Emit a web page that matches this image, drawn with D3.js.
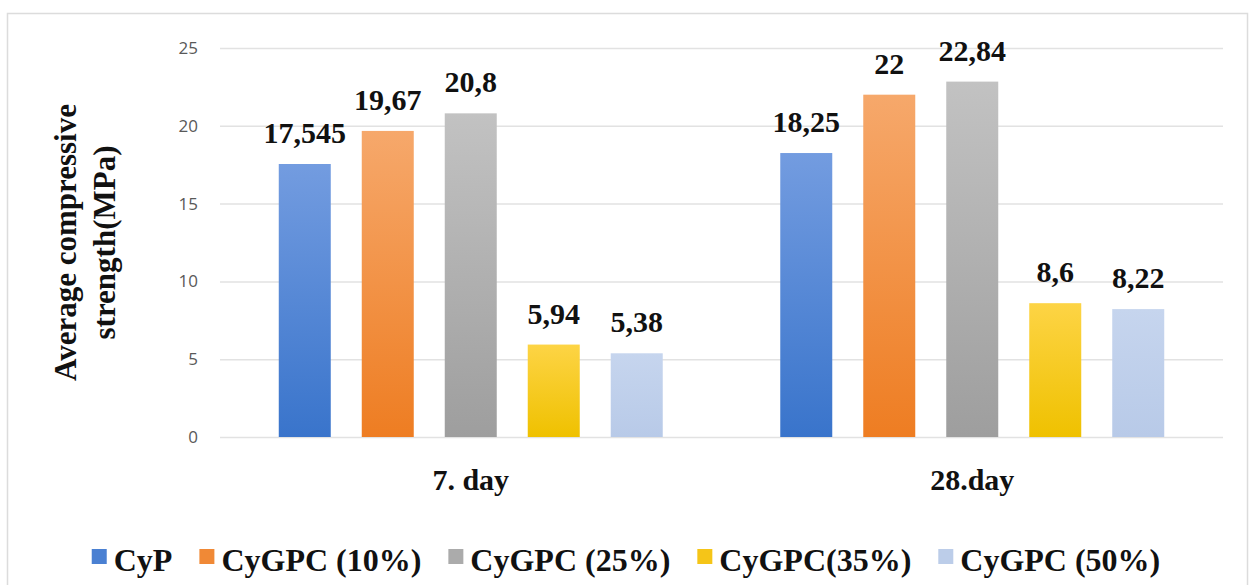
<!DOCTYPE html>
<html>
<head>
<meta charset="utf-8">
<script src="https://cdn.jsdelivr.net/npm/d3@7"></script>
<style>
  body { margin: 0; background: #fff; }
  svg { display: block; }
</style>
</head>
<body>
<div id="chart"></div>
<script>
'use strict';

// Data
const categories = ["7. day", "28.day"];
const seriesNames = ["CyP", "CyGPC (10%)", "CyGPC (25%)", "CyGPC(35%)", "CyGPC (50%)"];
const cyP    = [17.545, 18.25];
const gpc10  = [19.67, 22];
const gpc25  = [20.8, 22.84];
const gpc35  = [5.94, 8.6];
const gpc50  = [5.38, 8.22];
const yTicks = [0, 5, 10, 15, 20, 25];

const seriesValues = [cyP, gpc10, gpc25, gpc35, gpc50];

// colours: gradient top / bottom, legend swatch
const colTop    = ["#739ce0", "#f6a86b", "#c2c2c2", "#fdd445", "#c6d5ee"];
const colBottom = ["#3974cb", "#ee7d22", "#9e9e9e", "#efc100", "#b8cae8"];
const colKey    = ["#4a80d2", "#f08936", "#ababab", "#f5c518", "#bccde9"];

const W = 1252, H = 585;
const plot = {left: 220, right: 1223, top: 48, bottom: 437};
const serif = "'Liberation Serif', 'Times New Roman', serif";

const svg = d3.select("#chart").append("svg")
  .attr("width", W)
  .attr("height", H);

// gradients
const defs = svg.append("defs");
seriesNames.forEach((s, i) => {
  const g = defs.append("linearGradient")
    .attr("id", "grad" + i)
    .attr("x1", 0).attr("y1", 0).attr("x2", 0).attr("y2", 1);
  g.append("stop").attr("offset", "0%").attr("stop-color", colTop[i]);
  g.append("stop").attr("offset", "100%").attr("stop-color", colBottom[i]);
});

// outer frame
svg.append("rect")
  .attr("x", 7.5).attr("y", 13.5)
  .attr("width", 1240).attr("height", 580)
  .attr("fill", "none")
  .attr("stroke", "#dcdcdc")
  .attr("stroke-width", 1.5);

// scales
const x0 = d3.scaleBand().domain(categories).range([plot.left, plot.right]);
const x1 = d3.scaleBand().domain(d3.range(seriesNames.length))
  .range([0, x0.bandwidth()])
  .paddingInner(0.3735)
  .paddingOuter(0.708);
const y = d3.scaleLinear().domain([0, 25]).range([plot.bottom, plot.top]);

// gridlines + y tick labels
const yAxis = d3.axisLeft(y)
  .tickValues(yTicks)
  .tickSize(-(plot.right - plot.left))
  .tickPadding(22);
const gy = svg.append("g")
  .attr("transform", `translate(${plot.left},0)`)
  .call(yAxis);
gy.select(".domain").remove();
gy.selectAll(".tick line")
  .attr("stroke", "#e2e2e2")
  .attr("stroke-width", 1.5);
gy.selectAll(".tick text")
  .attr("fill", "#595959")
  .style("font-family", "'Open Sans', sans-serif")
  .style("font-size", "17px");

// bars
const fmt = v => String(v).replace(".", ",");
const groups = svg.selectAll("g.cat")
  .data(categories)
  .enter().append("g")
  .attr("class", "cat")
  .attr("transform", d => `translate(${x0(d)},0)`);

groups.each(function(cat, ci) {
  const g = d3.select(this);
  const rows = seriesValues.map((vals, si) => ({si: si, v: vals[ci]}));
  g.selectAll("rect")
    .data(rows)
    .enter().append("rect")
    .attr("x", d => x1(d.si))
    .attr("y", d => y(d.v))
    .attr("width", x1.bandwidth())
    .attr("height", d => y(0) - y(d.v))
    .attr("fill", d => `url(#grad${d.si})`);
  g.selectAll("text.val")
    .data(rows)
    .enter().append("text")
    .attr("class", "val")
    .attr("x", d => x1(d.si) + x1.bandwidth() / 2)
    .attr("y", d => y(d.v) - 21)
    .attr("text-anchor", "middle")
    .style("font-family", serif)
    .style("font-weight", "bold")
    .style("font-size", "30px")
    .attr("fill", "#111")
    .text(d => fmt(d.v));
});

// category labels
svg.selectAll("text.cat")
  .data(categories)
  .enter().append("text")
  .attr("class", "cat")
  .attr("x", d => x0(d) + x0.bandwidth() / 2)
  .attr("y", 490)
  .attr("text-anchor", "middle")
  .style("font-family", serif)
  .style("font-weight", "bold")
  .style("font-size", "30px")
  .attr("fill", "#111")
  .text(d => d);

// y axis title
const yTitle = ["Average compressive", "strength(MPa)"];
svg.selectAll("text.ytitle")
  .data(yTitle)
  .enter().append("text")
  .attr("class", "ytitle")
  .attr("transform", (d, i) => `translate(${76 + i * 39},${(plot.top + plot.bottom) / 2}) rotate(-90)`)
  .attr("text-anchor", "middle")
  .style("font-family", serif)
  .style("font-weight", "bold")
  .style("font-size", "31px")
  .attr("fill", "#111")
  .text(d => d);

// legend
const legend = svg.append("g");
const sw = 15, swGap = 7, itemGap = 27;
let xPos = 0;
seriesNames.forEach((s, i) => {
  const item = legend.append("g");
  item.append("rect")
    .attr("x", xPos).attr("y", 549)
    .attr("width", sw).attr("height", sw)
    .attr("fill", colKey[i]);
  const t = item.append("text")
    .attr("x", xPos + sw + swGap)
    .attr("y", 571)
    .style("font-family", serif)
    .style("font-weight", "bold")
    .style("font-size", "32px")
    .attr("fill", "#111")
    .text(s);
  xPos += sw + swGap + t.node().getComputedTextLength() + itemGap;
});
const legendW = xPos - itemGap;
legend.attr("transform", `translate(${W / 2 - legendW / 2},0)`);
</script>
</body>
</html>
